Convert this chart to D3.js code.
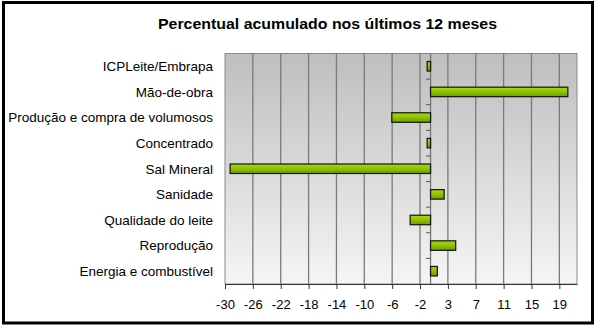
<!DOCTYPE html>
<html>
<head>
<meta charset="utf-8">
<script src="https://cdn.jsdelivr.net/npm/d3@7"></script>
<style>
  html, body { margin: 0; padding: 0; background: #fff; }
  svg { display: block; font-family: "Liberation Sans", Arial, sans-serif; }
</style>
</head>
<body>
<svg id="chart" width="595" height="327"></svg>
<script>
// Cost components of milk production, accumulated change over 12 months (%)
const categories = [
  "ICPLeite/Embrapa",
  "Mão-de-obra",
  "Produção e compra de volumosos",
  "Concentrado",
  "Sal Mineral",
  "Sanidade",
  "Qualidade do leite",
  "Reprodução",
  "Energia e combustível"
];
const values = [-0.5, 20.2, -5.7, -0.5, -29.5, 2.0, -3.0, 3.7, 1.0];

// Value axis: starts at -30.25 with a step of 4.1, labels rounded to integers
const axisMin = -30.25;
const axisMax = 21.55;
const axisStep = 4.1;
const tickCount = 13;

const title = "Percentual acumulado nos últimos 12 meses";

const svg = d3.select("#chart");
const plot = { left: 225, right: 577, top: 53.5, bottom: 284 };

const defs = svg.append("defs");
const bg = defs.append("linearGradient").attr("id", "plotBg")
  .attr("x1", 0).attr("y1", 0).attr("x2", 0).attr("y2", 1);
bg.append("stop").attr("offset", "0%").attr("stop-color", "#bebebe");
bg.append("stop").attr("offset", "100%").attr("stop-color", "#f5f5f5");

const barFill = defs.append("linearGradient").attr("id", "barFill")
  .attr("x1", 0).attr("y1", 0).attr("x2", 0).attr("y2", 1);
barFill.append("stop").attr("offset", "0%").attr("stop-color", "#a8d80c");
barFill.append("stop").attr("offset", "45%").attr("stop-color", "#92c400");
barFill.append("stop").attr("offset", "100%").attr("stop-color", "#6e9c00");

// Outer frame
svg.append("rect")
  .attr("x", 3.5).attr("y", 2.5).attr("width", 589).attr("height", 320.5)
  .attr("fill", "#fff").attr("stroke", "#000").attr("stroke-width", 3);

// Title
svg.append("text")
  .attr("x", 158).attr("y", 29)
  .attr("font-size", 15).attr("font-weight", "bold")
  .attr("textLength", 339).attr("lengthAdjust", "spacingAndGlyphs")
  .attr("fill", "#000")
  .text(title);

const x = d3.scaleLinear().domain([axisMin, axisMax]).range([plot.left, plot.right]);
const y = d3.scaleBand().domain(categories).range([plot.top, plot.bottom]);

// Plot area
svg.append("rect")
  .attr("x", plot.left).attr("y", plot.top)
  .attr("width", plot.right - plot.left).attr("height", plot.bottom - plot.top)
  .attr("fill", "url(#plotBg)").attr("stroke", "#8a8a8a").attr("stroke-width", 1);

const tickValues = d3.range(tickCount).map(i => axisMin + i * axisStep);
const fmt = v => String(Math.round(v));

// Vertical gridlines
svg.append("g").selectAll("line")
  .data(tickValues.slice(1))
  .join("line")
  .attr("x1", d => x(d)).attr("x2", d => x(d))
  .attr("y1", plot.top).attr("y2", plot.bottom)
  .attr("stroke", "#7a7a7a").attr("stroke-width", 1.3);

// Bottom value axis
const xAxis = d3.axisBottom(x)
  .tickValues(tickValues)
  .tickFormat(fmt)
  .tickSize(5)
  .tickPadding(8)
  .tickSizeOuter(0);
const gx = svg.append("g").attr("transform", `translate(0,${plot.bottom})`).call(xAxis);
gx.select(".domain").attr("stroke", "#333").attr("stroke-width", 1.2);
gx.selectAll(".tick line").attr("stroke", "#333");
gx.selectAll(".tick text")
  .attr("font-size", 13).attr("fill", "#000")
  .attr("font-family", "Liberation Sans, Arial, sans-serif")
  .attr("dy", "0.95em");

// Category axis along zero
const zeroX = x(0);
svg.append("line")
  .attr("x1", zeroX).attr("x2", zeroX)
  .attr("y1", plot.top).attr("y2", plot.bottom)
  .attr("stroke", "#777").attr("stroke-width", 1.3);
svg.append("g").selectAll("line")
  .data(categories.slice(1))
  .join("line")
  .attr("x1", zeroX - 4.5).attr("x2", zeroX)
  .attr("y1", d => y(d)).attr("y2", d => y(d))
  .attr("stroke", "#555").attr("stroke-width", 1);

// Category labels
svg.append("g").selectAll("text")
  .data(categories)
  .join("text")
  .attr("x", 213)
  .attr("y", d => y(d) + y.bandwidth() / 2)
  .attr("dy", "0.36em")
  .attr("text-anchor", "end")
  .attr("font-size", 13.5).attr("fill", "#000")
  .text(d => d);

// Bars
const barH = 9.5;
svg.append("g").selectAll("rect")
  .data(categories.map((c, i) => ({ c, v: values[i] })))
  .join("rect")
  .attr("x", d => x(Math.min(0, d.v)))
  .attr("width", d => Math.abs(x(d.v) - x(0)))
  .attr("y", d => y(d.c) + y.bandwidth() / 2 - barH / 2)
  .attr("height", barH)
  .attr("fill", "url(#barFill)")
  .attr("stroke", "#111").attr("stroke-width", 1.2);
</script>
</body>
</html>
